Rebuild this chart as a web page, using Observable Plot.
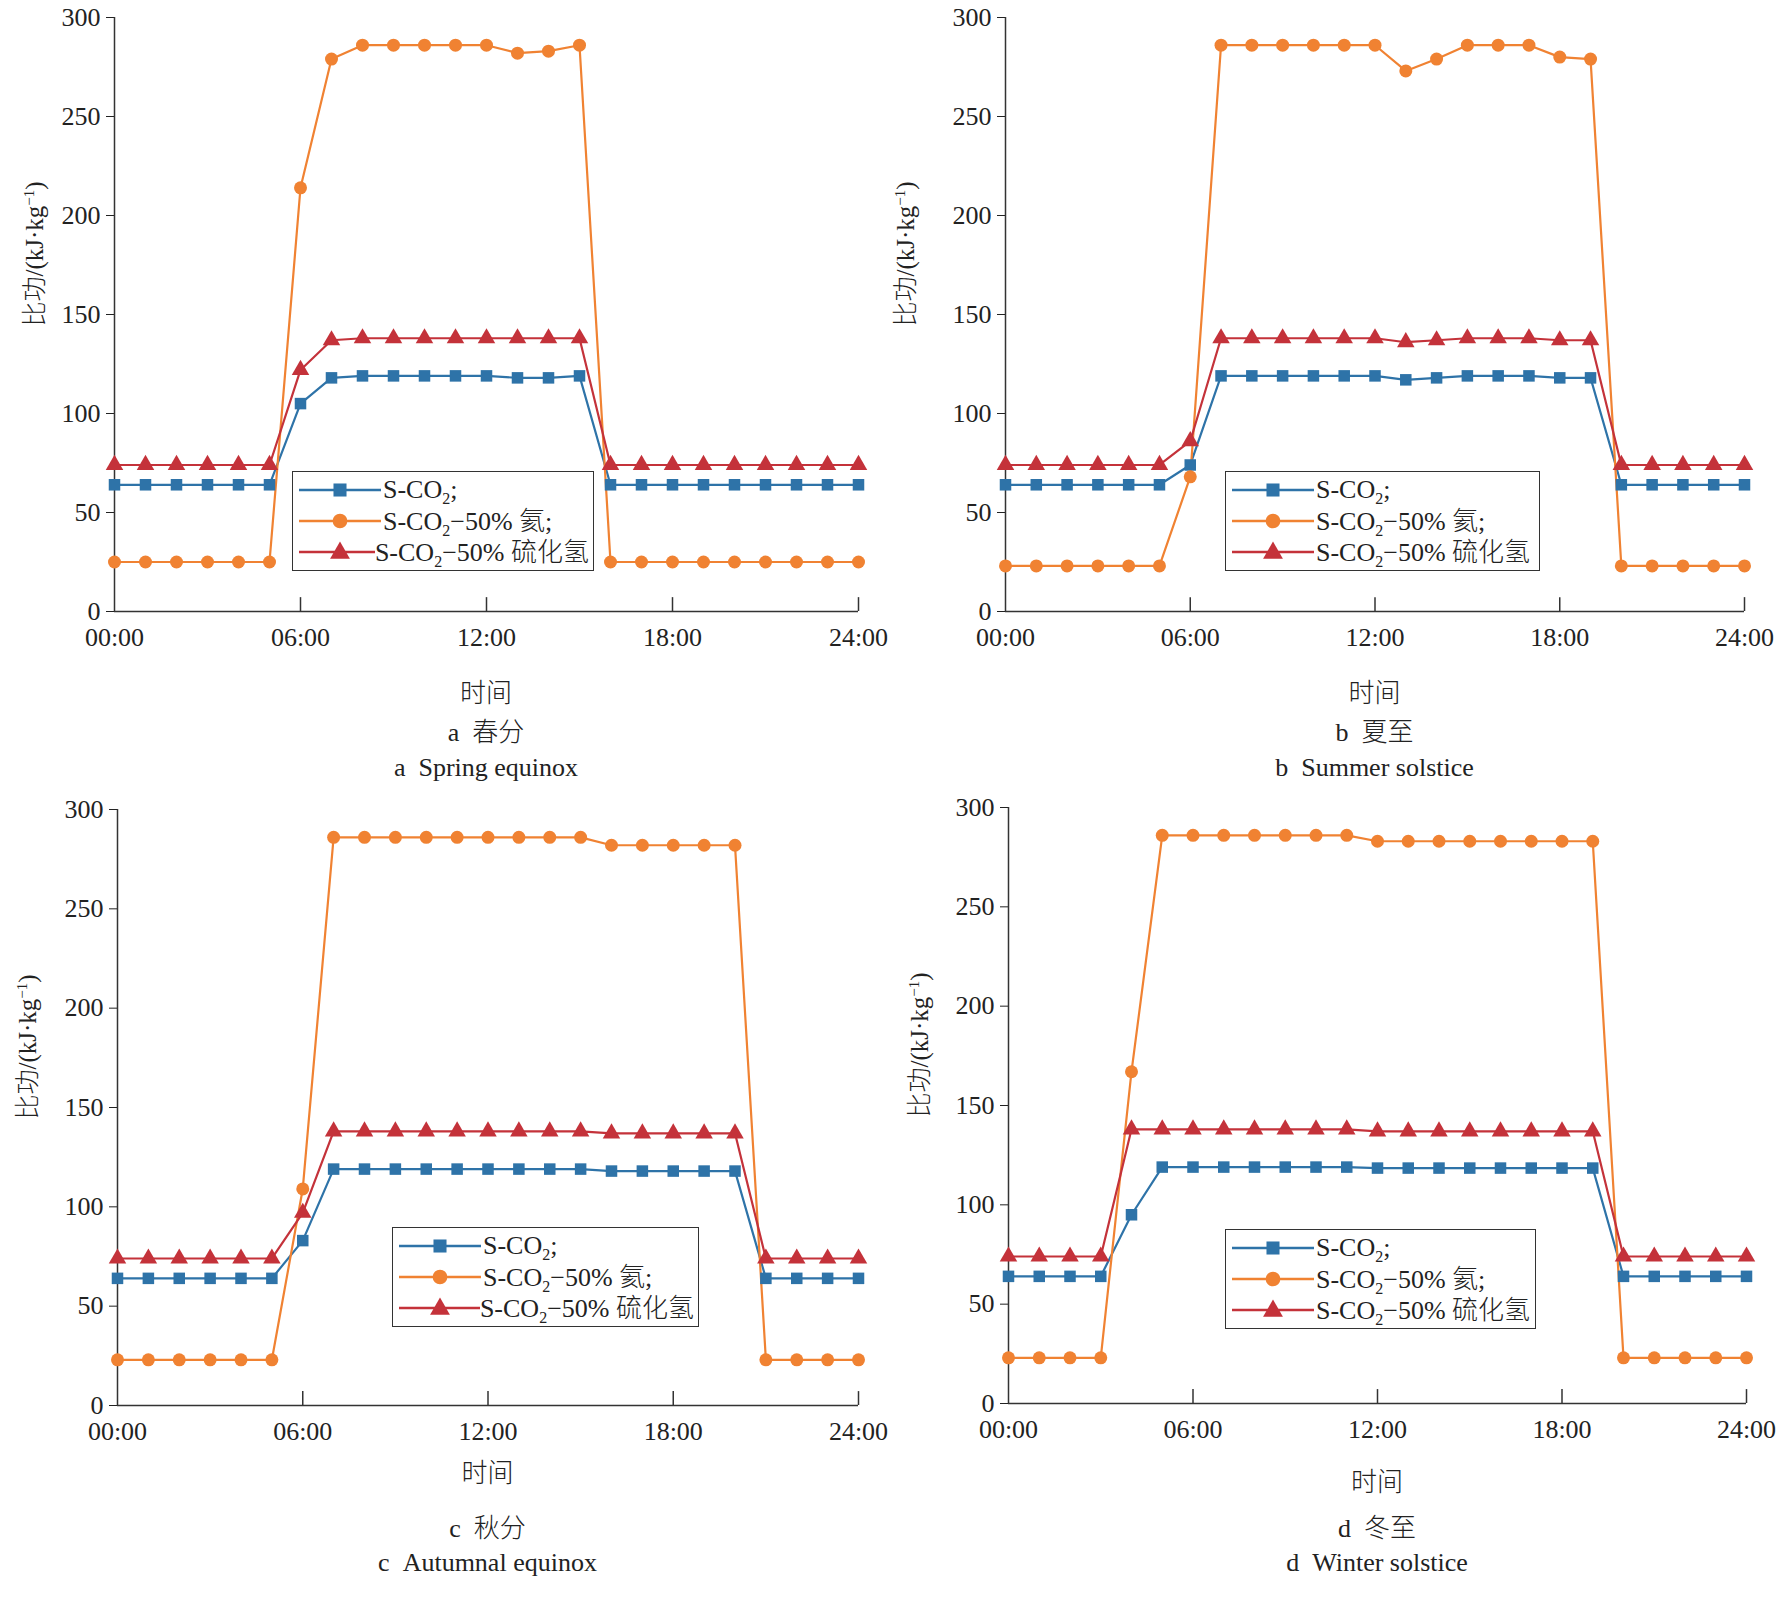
<!DOCTYPE html>
<html><head><meta charset="utf-8">
<script src="https://cdn.jsdelivr.net/npm/d3@7"></script>
<script src="https://cdn.jsdelivr.net/npm/@observablehq/plot@0.6"></script>
<style>
body{margin:0;background:#fff;}
#c{position:relative;width:1781px;height:1601px;font-family:"Liberation Serif","DejaVu Serif","Noto Sans CJK SC",serif;color:#222;}
.t{position:absolute;font-size:26px;text-align:center;white-space:nowrap;transform:translateX(-50%);line-height:32px;}
.ylab{position:absolute;font-size:25px;white-space:nowrap;transform:translate(-50%,-50%) rotate(-90deg);}
.leg{position:absolute;border:1.5px solid #333;background:#fff;font-size:26px;box-sizing:border-box;padding:2px 4px;overflow:hidden;}
.leg div{height:31px;line-height:28px;display:flex;align-items:center;white-space:nowrap;}
.leg sub{font-size:16px;line-height:0;}
.cjk{font-family:"Noto Sans CJK SC",sans-serif;font-weight:300;}
</style></head><body><div id="c"></div>
<script>
const hours = d3.range(0,25);
const tickHours = [0,6,12,18,24];
const yTicks = [0,50,100,150,200,250,300];
const colors = ["#2e73a8","#f08232","#c4323a"];
const symbols = ["square","circle","triangle"];

const springBlue   = [64,64,64,64,64,64,105,118,119,119,119,119,119,118,118,119,64,64,64,64,64,64,64,64,64];
const springOrange = [25,25,25,25,25,25,214,279,286,286,286,286,286,282,283,286,25,25,25,25,25,25,25,25,25];
const springRed    = [74,74,74,74,74,74,122,137,138,138,138,138,138,138,138,138,74,74,74,74,74,74,74,74,74];

const summerBlue   = [64,64,64,64,64,64,74,119,119,119,119,119,119,117,118,119,119,119,118,118,64,64,64,64,64];
const summerOrange = [23,23,23,23,23,23,68,286,286,286,286,286,286,273,279,286,286,286,280,279,23,23,23,23,23];
const summerRed    = [74,74,74,74,74,74,86,138,138,138,138,138,138,136,137,138,138,138,137,137,74,74,74,74,74];

const autumnBlue   = [64,64,64,64,64,64,83,119,119,119,119,119,119,119,119,119,118,118,118,118,118,64,64,64,64];
const autumnOrange = [23,23,23,23,23,23,109,286,286,286,286,286,286,286,286,286,282,282,282,282,282,23,23,23,23];
const autumnRed    = [74,74,74,74,74,74,97,138,138,138,138,138,138,138,138,138,137,137,137,137,137,74,74,74,74];

const winterBlue   = [64,64,64,64,95,119,119,119,119,119,119,119,118.5,118.5,118.5,118.5,118.5,118.5,118.5,118.5,64,64,64,64,64];
const winterOrange = [23,23,23,23,167,286,286,286,286,286,286,286,283,283,283,283,283,283,283,283,23,23,23,23,23];
const winterRed    = [74,74,74,74,138,138,138,138,138,138,138,138,137,137,137,137,137,137,137,137,74,74,74,74,74];

const panels = [
 {data:[springBlue,springOrange,springRed], x0:114,x1:858,y0:17,y1:611, l:"a", cn:"春分", en:"a  Spring equinox", ty:[691,730,768], ylx:32, leg:[292,471,302,100]},
 {data:[summerBlue,summerOrange,summerRed], x0:1005,x1:1744,y0:17,y1:611, l:"b", cn:"夏至", en:"b  Summer solstice", ty:[691,730,768], ylx:903, leg:[1225,471,315,100]},
 {data:[autumnBlue,autumnOrange,autumnRed], x0:117,x1:858,y0:809,y1:1405, l:"c", cn:"秋分", en:"c  Autumnal equinox", ty:[1471,1526,1563], ylx:25, leg:[392,1227,307,100]},
 {data:[winterBlue,winterOrange,winterRed], x0:1008,x1:1746,y0:807,y1:1403, l:"d", cn:"冬至", en:"d  Winter solstice", ty:[1480,1526,1563], ylx:917, leg:[1225,1229,311,100]}
];
const C = document.getElementById("c");
const fmt = h => String(h).padStart(2,"0")+":00";
const mL=70,mR=45,mT=20,mB=50;
function legendRowSVG(i){
  const s = d3.create("svg").attr("width",86).attr("height",24);
  s.append("line").attr("x1",2).attr("x2",84).attr("y1",12).attr("y2",12).attr("stroke",colors[i]).attr("stroke-width",2.5);
  const sym = d3.symbol().type([d3.symbolSquare,d3.symbolCircle,d3.symbolTriangle][i]).size(170);
  s.append("path").attr("d",sym()).attr("transform","translate(43,"+(i==2?13:12)+")").attr("fill",colors[i]);
  return s.node();
}
const legLabels = ['S-CO<sub>2</sub>;','S-CO<sub>2</sub>−50% <span class="cjk">氦</span>;','S-CO<sub>2</sub>−50% <span class="cjk">硫化氢</span>'];
for(const p of panels){
  const rows=[];
  p.data.forEach((arr,i)=>hours.forEach(h=>rows.push({h,v:arr[h],s:i})));
  const W=(p.x1-p.x0)+mL+mR, H=(p.y1-p.y0)+mT+mB;
  const plot = Plot.plot({
    width:W,height:H,marginLeft:mL,marginRight:mR,marginTop:mT,marginBottom:mB,
    style:{fontFamily:"Liberation Serif, DejaVu Serif, serif",fontSize:"26px",color:"#222",background:"transparent"},
    x:{domain:[0,24],ticks:tickHours,tickFormat:fmt,label:null,tickSize:0,tickPadding:16},
    y:{domain:[0,300],ticks:yTicks,label:null,tickSize:8,tickPadding:6},
    marks:[
      Plot.ruleX([0],{stroke:"#333",strokeWidth:1.5}),
      Plot.ruleY([0],{stroke:"#333",strokeWidth:1.5}),
      Plot.ruleX(tickHours.slice(1),{x:d=>d,y1:0,y2:7,stroke:"#333",strokeWidth:1.5}),
      Plot.line(rows,{x:"h",y:"v",z:"s",stroke:d=>colors[d.s],strokeWidth:2.2}),
      Plot.dot(rows,{x:"h",y:"v",fill:d=>colors[d.s],symbol:d=>symbols[d.s],r:6.5,stroke:"none"})
    ]
  });
  plot.style.position="absolute"; plot.style.left=(p.x0-mL)+"px"; plot.style.top=(p.y0-mT)+"px";
  C.appendChild(plot);
  const cx=(p.x0+p.x1)/2;
  const mk=(txt,y)=>{const d=document.createElement("div");d.className="t";d.innerHTML=txt;d.style.left=cx+"px";d.style.top=(y-16)+"px";C.appendChild(d);};
  mk('<span class="cjk">时间</span>',p.ty[0]);
  mk(p.l+'&nbsp;&nbsp;<span class="cjk">'+p.cn+'</span>',p.ty[1]);
  mk(p.en.replace("  ","&nbsp;&nbsp;"),p.ty[2]);
  const yl=document.createElement("div");yl.className="ylab";
  yl.innerHTML='<span class="cjk">比功</span>/(kJ·kg<sup style="font-size:15px">−1</sup>)';
  yl.style.left=p.ylx+"px";yl.style.top=((p.y0+p.y1)/2-60)+"px";C.appendChild(yl);
  const lg=document.createElement("div");lg.className="leg";
  lg.style.left=p.leg[0]+"px";lg.style.top=p.leg[1]+"px";lg.style.width=p.leg[2]+"px";lg.style.height=p.leg[3]+"px";
  legLabels.forEach((t,i)=>{const r=document.createElement("div");r.appendChild(legendRowSVG(i));const sp=document.createElement("span");sp.innerHTML=t;r.appendChild(sp);lg.appendChild(r);});
  C.appendChild(lg);
}
</script></body></html>
